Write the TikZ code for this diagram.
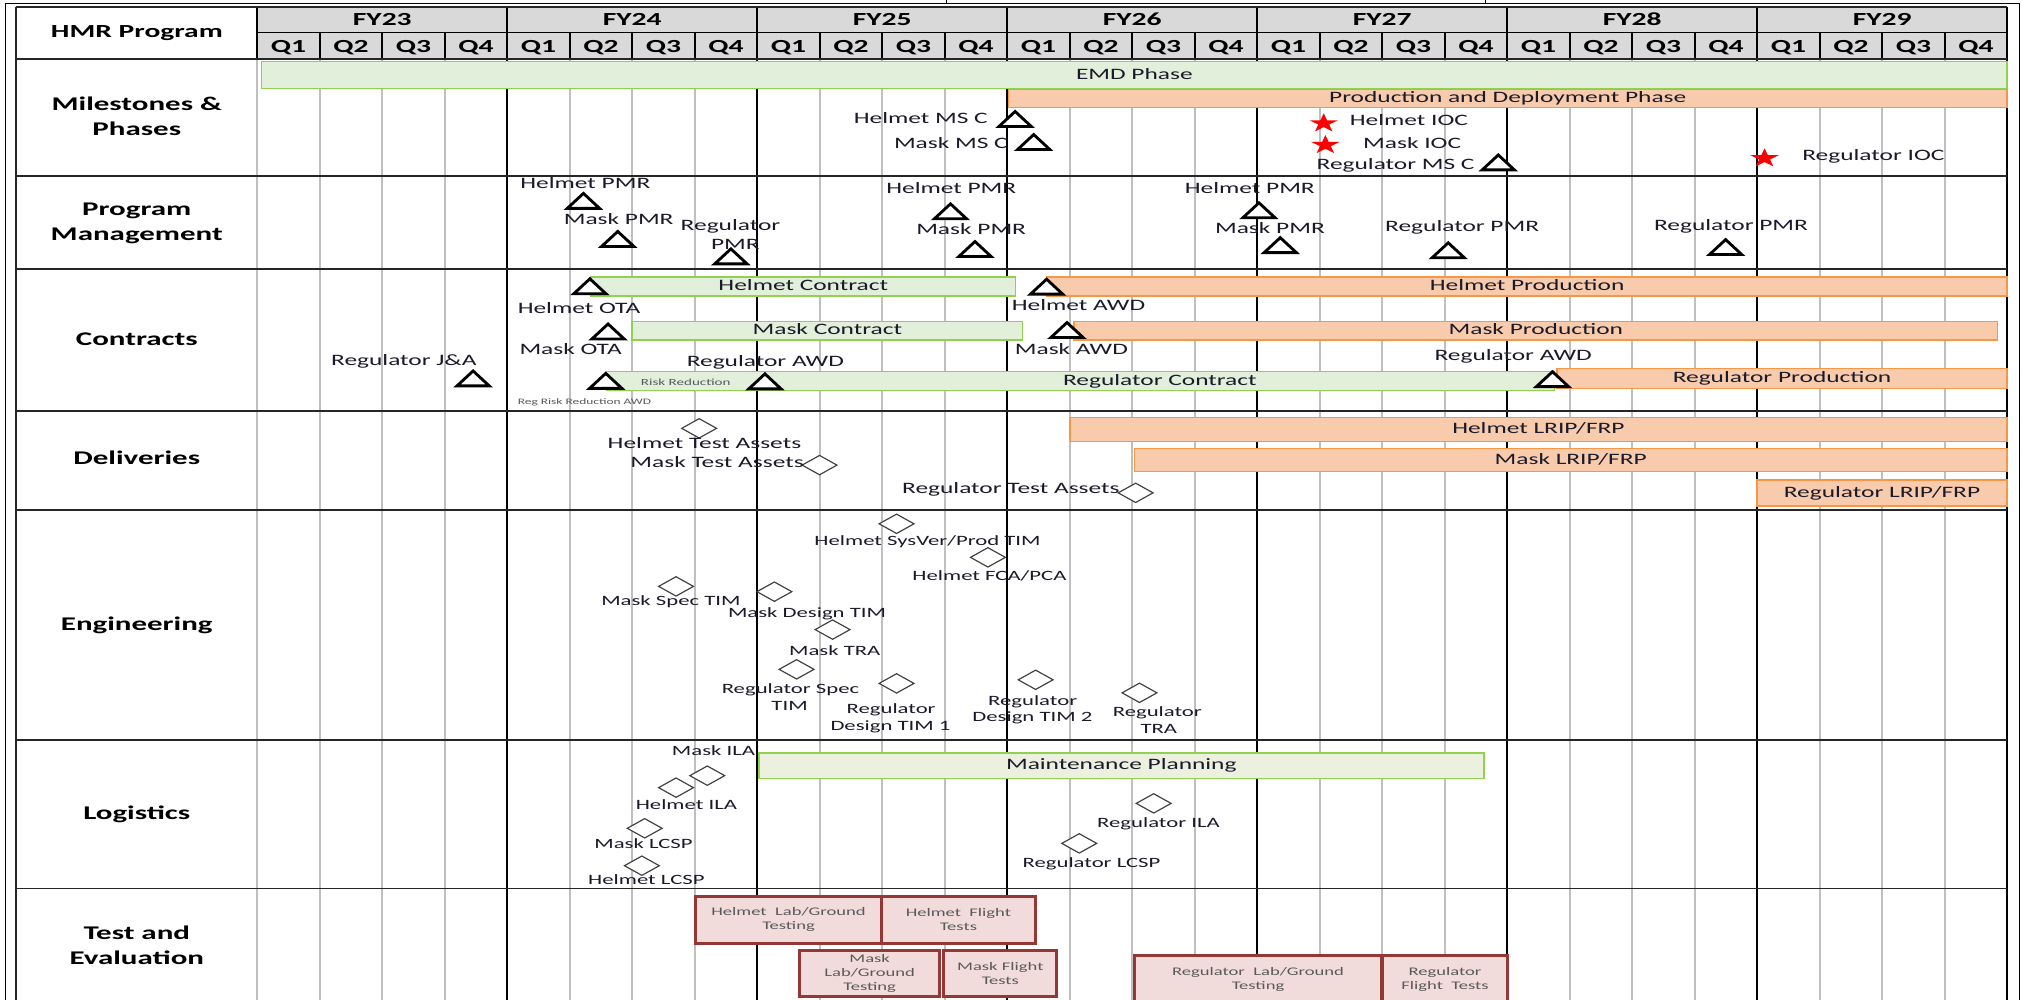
\documentclass[tikz,border=0pt]{standalone}
\usepackage{fontspec}
\setmainfont{Carlito}[FakeStretch=1.6]
\newcommand{\fcat}{\fontsize{15}{18}\selectfont\bfseries}
\newcommand{\fhdr}{\fontsize{14.3}{17}\selectfont\bfseries}
\newcommand{\fms}{\fontsize{12.3}{14}\selectfont}
\newcommand{\feng}{\fontsize{11}{13}\selectfont}
\newcommand{\ftest}{\fontsize{9}{10.8}\selectfont}
\newcommand{\ftiny}{\fontsize{7.3}{9}\selectfont}
\newcommand{\ftinier}{\fontsize{6.5}{8}\selectfont}
\definecolor{hdrfill}{HTML}{D9D9D9}
\definecolor{gridg}{HTML}{BFBFBF}
\definecolor{gfill}{HTML}{E2EFDA}
\definecolor{gline}{HTML}{92D050}
\definecolor{mfill}{HTML}{EBF1DE}
\definecolor{ofill}{HTML}{F8CBAD}
\definecolor{oline}{HTML}{F79646}
\definecolor{tfill}{HTML}{F2DCDB}
\definecolor{tline}{HTML}{953735}
\definecolor{ttext}{HTML}{595959}
\definecolor{ink}{HTML}{1A1A2A}
\tikzset{
  frame/.style={draw=black, line width=0.8pt},
  rline/.style={draw=black!85, line width=1.4pt},
  hline/.style={draw=black, line width=1.3pt},
  qline/.style={draw=gridg, line width=1.3pt},
  yline/.style={draw=black, line width=1.3pt},
  lbl/.style={inner sep=0pt, text height=0.64em, text depth=0pt, anchor=center},
  cat/.style={lbl, font=\fcat},
  hdr/.style={lbl, font=\fhdr},
  ms/.style={lbl, font=\fms, text=ink},
  eng/.style={lbl, font=\feng, text=ink},
  tiny/.style={lbl, font=\ftinier, text=ttext},
  bar/.style={inner sep=0pt, text height=0.64em, text depth=0pt, font=\fms, text=ink, line width=1.2pt},
  greenbar/.style={bar, fill=gfill, draw=gline},
  mbar/.style={bar, fill=mfill, draw=gline},
  orangebar/.style={bar, fill=ofill, draw=oline},
  testbox/.style={inner sep=0pt, fill=tfill, draw=tline, line width=2.3pt, font=\ftest, text=ttext, align=center},
  tri/.pic={\path[draw=black, fill=white, line width=2.2pt] (-12.5,5.8) -- (12.5,5.8) -- (0,-5.8) -- cycle;},
  dia/.pic={\path[draw=black!75, fill=white, line width=0.9pt] (-13.5,0) -- (0,-7.5) -- (13.5,0) -- (0,7.5) -- cycle;},
  redstar/.pic={\fill[red] (-90:7.7) -- (-54:2.94) -- (-18:7.7) -- (18:2.94) -- (54:7.7) -- (90:2.94) -- (126:7.7) -- (162:2.94) -- (198:7.7) -- (234:2.94) -- cycle;}
}
\begin{document}
\begin{tikzpicture}[x=1pt,y=-1pt]
\clip (0,0) rectangle (1568,775);
\fill[white] (0,0) rectangle (1568,775);
% outer frame
\draw[frame] (4.3,780) -- (4.3,2.6) -- (1565.6,2.6) -- (1565.6,780);
\draw[frame] (733.9,0) -- (733.9,2.6);
\draw[frame] (1151,0) -- (1151,2.6);
% header background
\fill[hdrfill] (199.4,5.7) rectangle (1555.7,46);
% grid
\foreach \k in {0,...,28}{
  \pgfmathsetmacro{\xx}{199.4+48.44*\k}
  \pgfmathtruncatemacro{\mm}{mod(\k,4)}
  \ifnum\mm=0
    \ifnum\k=0 \draw[qline] (\xx,46) -- (\xx,780); \else \draw[yline] (\xx,46) -- (\xx,780); \fi
    \draw[hline] (\xx,5.7) -- (\xx,46);
  \else
    \draw[qline] (\xx,46) -- (\xx,780);
    \draw[hline] (\xx,25.3) -- (\xx,46);
  \fi
}
\draw[hline] (199.4,25.3) -- (1555.7,25.3);
\draw[rline] (12.7,5.7) -- (1555.7,5.7);
\draw[rline] (12.7,5.7) -- (12.7,780);
\foreach \y in {46,136.4,208.5,318.6,395.3,573.6,688.6}
  \draw[rline] (12.7,\y) -- (1555.7,\y);
% header text
\node[hdr] (hmr) at (106.1,25.8) {HMR Program};
\foreach \i/\t in {0/FY23,1/FY24,2/FY25,3/FY26,4/FY27,5/FY28,6/FY29}
  \node[hdr] (fy\i) at ({199.4+193.76*\i+96.88},16.8) {\t};
\foreach \k in {0,...,27}{
  \pgfmathtruncatemacro{\qq}{mod(\k,4)+1}
  \node[hdr] (q\k) at ({199.4+48.44*\k+24.22},37.5) {Q\qq};
}
% category labels
\node[cat] (c1a) at (106,82.2) {Milestones \&};
\node[cat] (c1b) at (106,102) {Phases};
\node[cat] (c2a) at (106,164) {Program};
\node[cat] (c2b) at (106,183.5) {Management};
\node[cat] (c3) at (106,264.9) {Contracts};
\node[cat] (c4) at (106,357) {Deliveries};
\node[cat] (c5) at (106,485.8) {Engineering};
\node[cat] (c6) at (106,632.3) {Logistics};
\node[cat] (c7a) at (106,724.8) {Test and};
\node[cat] (c7b) at (106,744.7) {Evaluation};
% bars
\node[greenbar, minimum width=1353pt, minimum height=20.7pt] (emd) at (879.2,58.15) {EMD Phase};
\node[orangebar, minimum width=774pt, minimum height=14pt] (pdp) at (1168.6,76.2) {Production and Deployment Phase};
\node[greenbar, minimum width=329pt, minimum height=15pt] (hcon) at (622.6,222) {Helmet Contract};
\node[orangebar, minimum width=744pt, minimum height=15pt] (hprod) at (1183.6,222) {Helmet Production};
\node[greenbar, minimum width=302.5pt, minimum height=14.2pt] (mcon) at (641.25,256.4) {Mask Contract};
\node[orangebar, minimum width=715.8pt, minimum height=14.2pt] (mprod) at (1190.4,256.4) {Mask Production};
\node[greenbar, minimum width=123pt, minimum height=14.4pt, font=\ftiny, text=ttext] (rrr) at (531.5,295.3) {Risk Reduction};
\node[greenbar, minimum width=612pt, minimum height=14.4pt] (rcon) at (899,295.3) {Regulator Contract};
\node[orangebar, minimum width=349pt, minimum height=15.5pt] (rprod) at (1381.2,293.3) {Regulator Production};
\node[orangebar, minimum width=726.5pt, minimum height=18.9pt] (hlrip) at (1192.4,332.9) {Helmet LRIP/FRP};
\node[orangebar, minimum width=676.5pt, minimum height=18.1pt] (mlrip) at (1217.45,356.55) {Mask LRIP/FRP};
\node[orangebar, minimum width=194pt, minimum height=20.1pt] (rlrip) at (1458.7,382.15) {Regulator LRIP/FRP};
\node[mbar, minimum width=561.8pt, minimum height=19.8pt] (maint) at (869.1,593.4) {Maintenance Planning};
% test boxes
\node[testbox, minimum width=144pt, minimum height=36.7pt] (hlab) at (611.2,712.95) {Helmet~ Lab/Ground\\Testing};
\node[testbox, minimum width=119.3pt, minimum height=36.7pt] (hflt) at (742.85,712.95) {Helmet~ Flight\\Tests};
\node[testbox, minimum width=108.3pt, minimum height=36.2pt] (mlab) at (674.05,754.5) {Mask\\Lab/Ground\\Testing};
\node[testbox, minimum width=87.7pt, minimum height=36.2pt] (mflt) at (775.35,754.5) {Mask Flight\\Tests};
\node[testbox, minimum width=191.8pt, minimum height=37.7pt] (rlab) at (975.1,759.15) {Regulator~ Lab/Ground\\Testing};
\node[testbox, minimum width=96.6pt, minimum height=37.7pt] (rflt) at (1120,759.15) {Regulator\\Flight~ Tests};
% milestone triangles
\pic (t-hmsc) at (786.8,92.2) {tri};
\pic (t-mmsc) at (801.2,110.1) {tri};
\pic (t-rmsc) at (1161.3,125.9) {tri};
\pic (t-hpmr1) at (452.2,155.7) {tri};
\pic (t-mpmr1) at (478.8,185.2) {tri};
\pic (t-rpmr1) at (566.5,198.7) {tri};
\pic (t-hpmr2) at (736.7,163.8) {tri};
\pic (t-mpmr2) at (755.7,193) {tri};
\pic (t-hpmr3) at (975.8,163) {tri};
\pic (t-mpmr3) at (992.3,190) {tri};
\pic (t-rpmr2) at (1122.5,194) {tri};
\pic (t-rpmr3) at (1337.5,191.5) {tri};
\pic (t-hota) at (457.2,221.9) {tri};
\pic (t-hawd) at (811.2,222.2) {tri};
\pic (t-mota) at (471.3,256.9) {tri};
\pic (t-mawd) at (827,255.8) {tri};
\pic (t-rja) at (366.7,293.3) {tri};
\pic (t-rrr) at (469.5,295.2) {tri};
\pic (t-rawd1) at (592.9,295.6) {tri};
\pic (t-rawd2) at (1203.3,293.9) {tri};
% stars
\pic[xscale=1.5] (s-hioc) at (1026,95.6) {redstar};
\pic[xscale=1.5] (s-mioc) at (1027.3,112.4) {redstar};
\pic[xscale=1.5] (s-rioc) at (1367.7,122.7) {redstar};
% diamonds
\pic (d-hta) at (541.9,332) {dia};
\pic (d-mta) at (635.2,360.5) {dia};
\pic (d-rta) at (880.2,382) {dia};
\pic (d-hsv) at (694.9,406) {dia};
\pic (d-hfca) at (765.7,432) {dia};
\pic (d-mspec) at (524,454.5) {dia};
\pic (d-mdes) at (600.2,458.6) {dia};
\pic (d-mtra) at (645.3,488) {dia};
\pic (d-rspec) at (617.4,518.8) {dia};
\pic (d-rdes1) at (694.9,529.7) {dia};
\pic (d-rdes2) at (802.7,526.9) {dia};
\pic (d-rtra) at (883.2,537) {dia};
\pic (d-mila) at (548.2,601.2) {dia};
\pic (d-hila) at (524,610.5) {dia};
\pic (d-mlcsp) at (499.7,642) {dia};
\pic (d-hlcsp) at (497.5,671) {dia};
\pic (d-rila) at (894.2,622.7) {dia};
\pic (d-rlcsp) at (836.5,653.7) {dia};
% milestone labels
\node[ms] (l-hmsc) at (713.7,92.5) {Helmet MS C};
\node[ms] (l-mmsc) at (737,111.6) {Mask MS C};
\node[ms] (l-hioc) at (1092,94.3) {Helmet IOC};
\node[ms] (l-mioc) at (1094.5,111.6) {Mask IOC};
\node[ms] (l-rmsc) at (1081.7,128.4) {Regulator MS C};
\node[ms] (l-rioc) at (1452,121.5) {Regulator IOC};
% PM labels
\node[ms] (l-hpmr1) at (453.7,142.9) {Helmet PMR};
\node[ms] (l-mpmr1) at (479.5,170.5) {Mask PMR};
\node[ms] (l-rpmr1a) at (566.2,175.2) {Regulator};
\node[ms] (l-rpmr1b) at (570,190) {PMR};
\node[ms] (l-hpmr2) at (737.3,146.5) {Helmet PMR};
\node[ms] (l-mpmr2) at (752.7,178.8) {Mask PMR};
\node[ms] (l-hpmr3) at (968.7,146.5) {Helmet PMR};
\node[ms] (l-mpmr3) at (984.3,177.5) {Mask PMR};
\node[ms] (l-rpmr2) at (1133.3,176.2) {Regulator PMR};
\node[ms] (l-rpmr3) at (1341.7,175.7) {Regulator PMR};
% contracts labels
\node[ms] (l-hota) at (448.8,239.5) {Helmet OTA};
\node[ms] (l-hawd) at (835.9,237.2) {Helmet AWD};
\node[ms] (l-mota) at (442.3,271.3) {Mask OTA};
\node[ms] (l-mawd) at (830.4,271.3) {Mask AWD};
\node[ms] (l-rja) at (313,280.4) {Regulator J\&A};
\node[tiny] (l-rrr) at (453,310.6) {Reg Risk Reduction AWD};
\node[ms] (l-rawd1) at (593.2,281.1) {Regulator AWD};
\node[ms] (l-rawd2) at (1172.8,276) {Regulator AWD};
% deliveries labels
\node[ms] (l-hta) at (546,344.2) {Helmet Test Assets};
\node[ms] (l-mta) at (555.8,359.2) {Mask Test Assets};
\node[ms] (l-rta) at (783.5,379.3) {Regulator Test Assets};
% engineering labels
\node[eng] (l-hsv) at (718.9,419.4) {Helmet SysVer/Prod TIM};
\node[eng] (l-hfca) at (766.9,446.5) {Helmet FCA/PCA};
\node[eng] (l-mspec) at (520,466.4) {Mask Spec TIM};
\node[eng] (l-mdes) at (625.5,475.4) {Mask Design TIM};
\node[eng] (l-mtra) at (647,505.2) {Mask TRA};
\node[eng] (l-rspeca) at (612.7,534.4) {Regulator Spec};
\node[eng] (l-rspecb) at (612,547.3) {TIM};
\node[eng] (l-rdes1a) at (690.7,549.9) {Regulator};
\node[eng] (l-rdes1b) at (690.2,562.8) {Design TIM 1};
\node[eng] (l-rdes2a) at (800.4,543.9) {Regulator};
\node[eng] (l-rdes2b) at (800.2,556.1) {Design TIM 2};
\node[eng] (l-rtraa) at (897,552.4) {Regulator};
\node[eng] (l-rtrab) at (898.2,565.4) {TRA};
% logistics labels
\node[eng] (l-mila) at (553,582) {Mask ILA};
\node[eng] (l-hila) at (532,624) {Helmet ILA};
\node[eng] (l-mlcsp) at (498.8,654.2) {Mask LCSP};
\node[eng] (l-hlcsp) at (501,682.7) {Helmet LCSP};
\node[eng] (l-rila) at (897.9,638.2) {Regulator ILA};
\node[eng] (l-rlcsp) at (846,669.2) {Regulator LCSP};
\end{tikzpicture}
\end{document}
